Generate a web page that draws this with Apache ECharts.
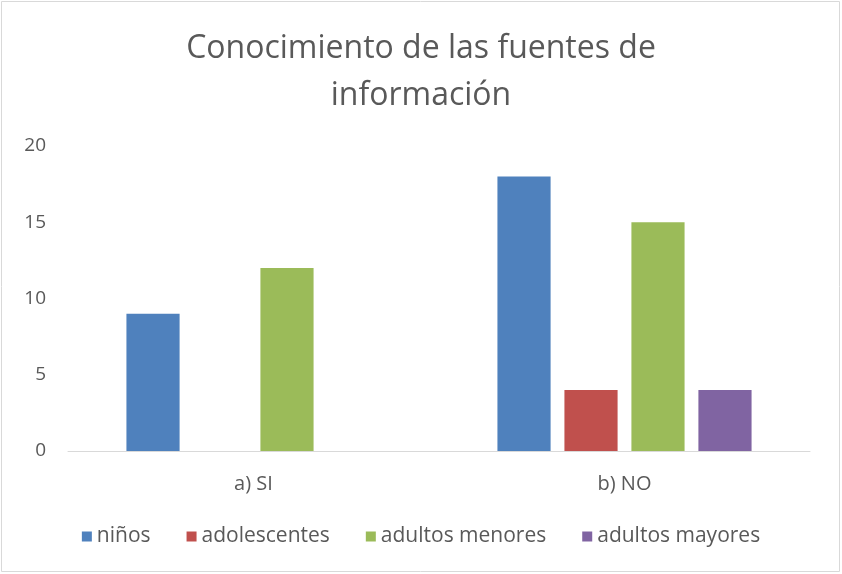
<!DOCTYPE html>
<html><head><meta charset="utf-8">
<script src="https://cdn.jsdelivr.net/npm/echarts@6/dist/echarts.min.js"></script>
<style>html,body{margin:0;padding:0;background:#fff}#c{width:842px;height:574px}</style>
</head><body><div id="c"></div>
<script>
const categories = ['a) SI', 'b) NO'];
const seriesNames = ['niños', 'adolescentes', 'adultos menores', 'adultos mayores'];
const ninos = [9, 18];
const adolescentes = [0, 4];
const adultosMenores = [12, 15];
const adultosMayores = [0, 4];
const yTicks = [0, 5, 10, 15, 20];
const colors = ['#4f81bd', '#c0504d', '#9bbb59', '#8064a2'];
const FONT = "'Open Sans', sans-serif";
const data = [ninos, adolescentes, adultosMenores, adultosMayores];
const chart = echarts.init(document.getElementById('c'));
chart.setOption({
  animation: false,
  textStyle: {fontFamily: FONT},
  title: {text: 'Conocimiento de las fuentes de\ninformación', left: 'center', top: 20,
    textStyle: {fontFamily: FONT, fontSize: 32, fontWeight: 'normal', color: '#595959', lineHeight: 47}},
  graphic: [{type: 'rect', shape: {x: 1.5, y: 1.5, width: 838, height: 570}, style: {fill: 'none', stroke: '#d9d9d9', lineWidth: 1}}],
  legend: {bottom: 22, left: 'center', itemWidth: 10, itemHeight: 10, itemGap: 36, icon: 'rect',
    textStyle: {fontFamily: FONT, fontSize: 21, color: '#595959'}, data: seriesNames},
  grid: {left: 68, right: 32, top: 146, bottom: 123},
  xAxis: {type: 'category', data: categories, axisTick: {show: false},
    axisLine: {lineStyle: {color: '#d9d9d9', width: 1}},
    axisLabel: {fontFamily: FONT, fontSize: 20, color: '#595959', margin: 23}},
  yAxis: {type: 'value', min: yTicks[0], max: yTicks[yTicks.length - 1], interval: 5,
    splitLine: {show: false}, axisLine: {show: false}, axisTick: {show: false},
    axisLabel: {fontFamily: FONT, fontSize: 19, color: '#595959', margin: 22}},
  series: seriesNames.map((n, i) => ({name: n, type: 'bar', data: data[i],
    itemStyle: {color: colors[i]}, barGap: '26%', barCategoryGap: '31.5%'}))
});
</script></body></html>
